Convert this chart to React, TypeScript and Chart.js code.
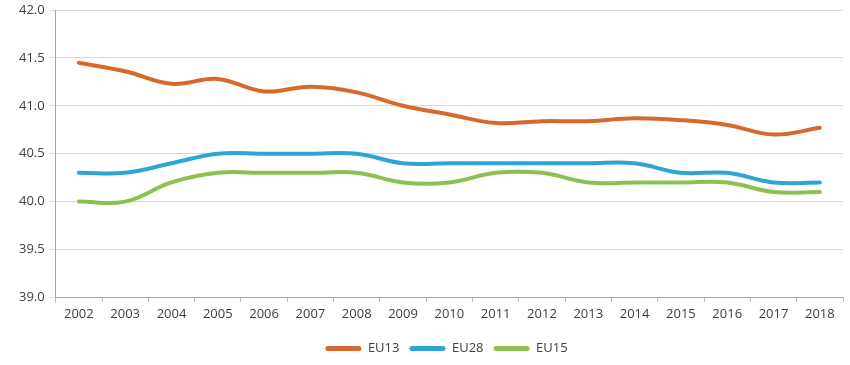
import React, { useEffect, useRef } from "react";
import { Chart, registerables } from "chart.js";

Chart.register(...registerables);

const years = ["2002","2003","2004","2005","2006","2007","2008","2009","2010","2011","2012","2013","2014","2015","2016","2017","2018"];
const eu13 = [41.45, 41.36, 41.23, 41.28, 41.15, 41.2, 41.14, 41.0, 40.91, 40.82, 40.84, 40.84, 40.87, 40.85, 40.8, 40.7, 40.77];
const eu28 = [40.3, 40.3, 40.4, 40.5, 40.5, 40.5, 40.5, 40.4, 40.4, 40.4, 40.4, 40.4, 40.4, 40.3, 40.3, 40.2, 40.2];
const eu15 = [40.0, 40.0, 40.2, 40.3, 40.3, 40.3, 40.3, 40.2, 40.2, 40.3, 40.3, 40.2, 40.2, 40.2, 40.2, 40.1, 40.1];
const yTicks = [39.0, 39.5, 40.0, 40.5, 41.0, 41.5, 42.0];

const legendShift = {
  id: "legendShift",
  afterLayout(chart: any) {
    if (chart.legend) {
      chart.legend.left += 18;
      chart.legend.right += 18;
    }
  },
};

export default function App() {
  const ref = useRef<HTMLCanvasElement | null>(null);
  useEffect(() => {
    if (!ref.current) return;
    const font = { family: "'Open Sans', sans-serif", size: 13 };
    const mk = (label: string, data: number[], color: string) => ({
      label,
      data,
      borderColor: color,
      backgroundColor: color,
      borderWidth: 4,
      pointRadius: 0,
      tension: 0.4,
      fill: false,
      borderCapStyle: "round" as const,
    });
    const chart = new Chart(ref.current, {
      type: "line",
      plugins: [legendShift],
      data: {
        labels: years,
        datasets: [
          mk("EU13", eu13, "#D6692B"),
          mk("EU28", eu28, "#2FA4D7"),
          mk("EU15", eu15, "#8CC152"),
        ],
      },
      options: {
        animation: false,
        responsive: true,
        maintainAspectRatio: false,
        layout: { padding: { top: 0, right: 7, left: 14, bottom: 0 } },
        plugins: {
          tooltip: { enabled: false },
          legend: {
            position: "bottom",
            labels: {
              font,
              color: "#404040",
              boxWidth: 36,
              boxHeight: 5,
              padding: 10,
              useBorderRadius: true,
              borderRadius: 2.5,
              generateLabels: (c: any) =>
                Chart.defaults.plugins.legend.labels.generateLabels(c).map((l: any) => ({
                  ...l,
                  lineWidth: 0,
                  fillStyle: l.strokeStyle,
                })),
            },
          },
        },
        scales: {
          x: {
            offset: true,
            afterFit: (axis: any) => {
              axis.height += 6;
            },
            grid: { drawOnChartArea: false, offset: true, tickLength: 5, color: "#bfbfbf" },
            border: { color: "#a6a6a6" },
            ticks: { font, color: "#404040", maxRotation: 0, padding: 4 },
          },
          y: {
            min: 39,
            max: 42,
            afterBuildTicks: (axis: any) => {
              axis.ticks = yTicks.map((v) => ({ value: v }));
            },
            afterFit: (axis: any) => {
              axis.paddingTop = 10;
            },
            grid: { color: "#d9d9d9", tickLength: 6 },
            border: { color: "#a6a6a6" },
            ticks: { font, color: "#404040", padding: 5, callback: (v: any) => Number(v).toFixed(1) },
          },
        },
      },
    });
    return () => chart.destroy();
  }, []);
  return (
    <div style={{ position: "absolute", left: 0, top: 0, width: 850, height: 365, background: "#fff" }}>
      <canvas ref={ref} />
    </div>
  );
}
